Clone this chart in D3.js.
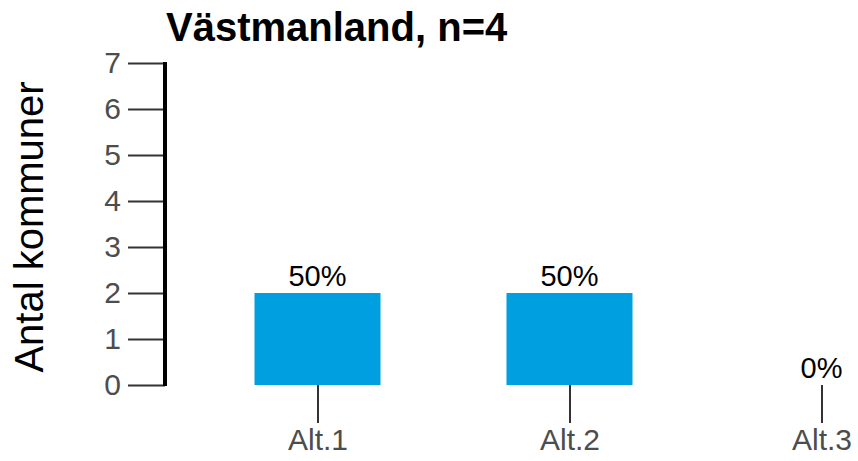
<!DOCTYPE html>
<html>
<head>
<meta charset="utf-8">
<script src="https://cdn.jsdelivr.net/npm/d3@7"></script>
<style>
  html, body { margin: 0; padding: 0; background: #fff; }
  svg { display: block; font-family: "Liberation Sans", Arial, sans-serif; }
</style>
</head>
<body>
<svg id="chart" width="858" height="461"></svg>
<script>
// Number of municipalities per alternative
const categories = ["Alt.1", "Alt.2", "Alt.3"];
const counts = [2, 2, 0];
const shareLabels = ["50%", "50%", "0%"];
const yTicks = [0, 1, 2, 3, 4, 5, 6, 7];
const title = "Västmanland, n=4";
const yTitle = "Antal kommuner";

const svg = d3.select("#chart");

const x = d3.scalePoint().domain(categories).range([317.5, 821.5]);
const step = x.step();
const barWidth = step * 0.5;
const y = d3.scaleLinear().domain([0, 7]).range([385, 63]);

// Title
svg.append("text")
  .attr("x", 166)
  .attr("y", 41)
  .attr("font-size", 40)
  .attr("font-weight", "bold")
  .attr("fill", "#000")
  .text(title);

// Y axis title
svg.append("text")
  .attr("transform", `translate(43,${(y(0) + y(7)) / 2 + 3}) rotate(-90)`)
  .attr("text-anchor", "middle")
  .attr("font-size", 40)
  .attr("fill", "#000")
  .text(yTitle);

// Bars
svg.append("g").selectAll("rect")
  .data(categories)
  .join("rect")
  .attr("x", (d) => x(d) - barWidth / 2)
  .attr("y", (d, i) => y(counts[i]))
  .attr("width", barWidth)
  .attr("height", (d, i) => y(0) - y(counts[i]))
  .attr("fill", "#009FE0");

// Share labels above bars
svg.append("g").selectAll("text")
  .data(categories)
  .join("text")
  .attr("x", (d) => x(d))
  .attr("y", (d, i) => y(counts[i]) - 7)
  .attr("text-anchor", "middle")
  .attr("font-size", 29)
  .attr("fill", "#000")
  .text((d, i) => shareLabels[i]);

// Y axis
const yAxis = svg.append("g")
  .attr("transform", "translate(165,0)")
  .call(d3.axisLeft(y).tickValues(yTicks).tickFormat(d3.format("d")).tickSize(37).tickPadding(7));
yAxis.select(".domain").remove();
yAxis.selectAll(".tick line").attr("stroke", "#333").attr("stroke-width", 2);
yAxis.selectAll(".tick text")
  .attr("font-size", 30)
  .attr("fill", "#4D4D4D")
  .attr("font-family", "'Liberation Sans', Arial, sans-serif");
svg.append("line")
  .attr("x1", 165).attr("x2", 165)
  .attr("y1", y(7) - 1).attr("y2", y(0) + 1)
  .attr("stroke", "#000")
  .attr("stroke-width", 4);

// X axis (ticks only)
const xAxis = svg.append("g")
  .attr("transform", `translate(0,${y(0)})`)
  .call(d3.axisBottom(x).tickSize(38).tickPadding(6));
xAxis.select(".domain").remove();
xAxis.selectAll(".tick line").attr("stroke", "#333").attr("stroke-width", 2);
xAxis.selectAll(".tick text")
  .attr("font-size", 30)
  .attr("fill", "#4D4D4D")
  .attr("font-family", "'Liberation Sans', Arial, sans-serif");
</script>
</body>
</html>
